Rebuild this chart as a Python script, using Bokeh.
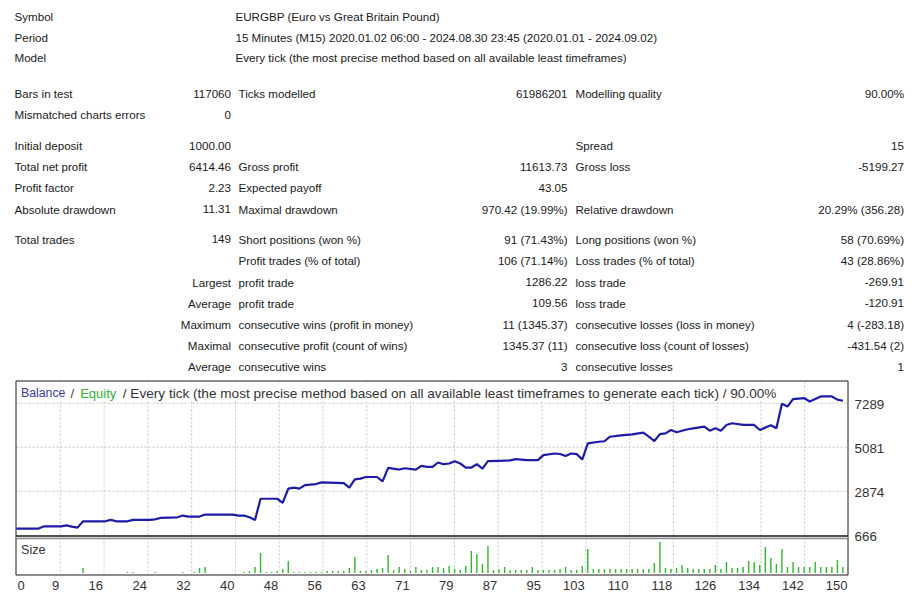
from bokeh.plotting import figure
from bokeh.models import Range1d, ColumnDataSource
from bokeh.embed import file_html
from bokeh.resources import INLINE
from bokeh.core.properties import value

FONT = "Liberation Sans"

# ---------------- report table data ----------------
header_labels = ["Symbol", "Period", "Model"]
header_values = [
    "EURGBP (Euro vs Great Britain Pound)",
    "15 Minutes (M15) 2020.01.02 06:00 - 2024.08.30 23:45 (2020.01.01 - 2024.09.02)",
    "Every tick (the most precise method based on all available least timeframes)",
]
label1 = ["Bars in test", "Mismatched charts errors", "Initial deposit", "Total net profit",
          "Profit factor", "Absolute drawdown", "Total trades", "", "", "", "", "", ""]
value1 = ["117060", "0", "1000.00", "6414.46", "2.23", "11.31", "149", "",
          "Largest", "Average", "Maximum", "Maximal", "Average"]
label2 = ["Ticks modelled", "", "", "Gross profit", "Expected payoff", "Maximal drawdown",
          "Short positions (won %)", "Profit trades (% of total)", "profit trade", "profit trade",
          "consecutive wins (profit in money)", "consecutive profit (count of wins)", "consecutive wins"]
value2 = ["61986201", "", "", "11613.73", "43.05", "970.42 (19.99%)", "91 (71.43%)",
          "106 (71.14%)", "1286.22", "109.56", "11 (1345.37)", "1345.37 (11)", "3"]
label3 = ["Modelling quality", "", "Spread", "Gross loss", "", "Relative drawdown",
          "Long positions (won %)", "Loss trades (% of total)", "loss trade", "loss trade",
          "consecutive losses (loss in money)", "consecutive loss (count of losses)", "consecutive losses"]
value3 = ["90.00%", "", "15", "-5199.27", "", "20.29% (356.28)", "58 (70.69%)",
          "43 (28.86%)", "-269.91", "-120.91", "4 (-283.18)", "-431.54 (2)", "1"]

# ---------------- chart data ----------------
bal_trade = [0, 4, 5, 8, 9, 10, 11, 12, 16, 17, 18, 20, 21, 24, 25, 26, 29, 30, 31, 33, 34, 39,
             40, 41, 42, 43, 44, 47, 48, 49, 50, 51, 52, 54, 55, 59, 60, 61, 62, 63, 65, 66, 67,
             69, 70, 72, 73, 74, 75, 76, 77, 78, 79, 80, 81, 82, 83, 84, 85, 87, 89, 90, 92, 94,
             95, 97, 98, 99, 100, 101, 102, 103, 105, 106, 107, 109, 111, 113, 114, 115, 116,
             117, 118, 119, 121, 122, 124, 125, 126, 127, 128, 129, 131, 133, 134, 136, 137,
             138, 139, 140, 142, 143, 144, 145, 147, 148, 149]
bal_value = [1000, 1000, 1110, 1110, 1160, 1096, 1045, 1363, 1363, 1434, 1363, 1363, 1434, 1434,
             1464, 1535, 1565, 1651, 1601, 1601, 1702, 1702, 1651, 1651, 1565, 1434, 2495, 2495,
             2293, 2999, 3050, 3000, 3182, 3232, 3318, 3283, 3050, 3470, 3503, 3586, 3586, 3369,
             4041, 3960, 4025, 3960, 4142, 4091, 4091, 4313, 4228, 4263, 4379, 4263, 4060, 4060,
             4228, 4010, 4379, 4400, 4420, 4480, 4430, 4430, 4682, 4766, 4740, 4640, 4766, 4733,
             4463, 5273, 5354, 5380, 5607, 5678, 5728, 5809, 5607, 5390, 5740, 5775, 5945, 5830,
             5980, 6030, 6112, 5910, 6031, 5910, 6198, 6284, 6198, 6198, 5945, 6180, 6031, 7259,
             7123, 7496, 7547, 7375, 7496, 7627, 7627, 7470, 7414]

size_trade = [12, 20, 21, 25, 30, 32, 33, 34] + list(range(41, 150))
size_lots = [0.05, 0.01, 0.01, 0.01, 0.01, 0.01, 0.05, 0.06,
             # 41..60
             0.01, 0.02, 0.06, 0.20, 0.01, 0.01, 0.02, 0.04, 0.12, 0.01,
             0.01, 0.01, 0.01, 0.01, 0.01, 0.02, 0.02, 0.02, 0.02, 0.05,
             # 61..80
             0.16, 0.02, 0.02, 0.03, 0.04, 0.05, 0.18, 0.03, 0.06, 0.04,
             0.02, 0.06, 0.03, 0.03, 0.06, 0.06, 0.05, 0.07, 0.04, 0.03,
             # 81..100
             0.07, 0.22, 0.19, 0.09, 0.27, 0.03, 0.04, 0.06, 0.03, 0.03,
             0.03, 0.03, 0.06, 0.03, 0.03, 0.03, 0.03, 0.04, 0.06, 0.03,
             # 101..120
             0.03, 0.07, 0.24, 0.04, 0.04, 0.04, 0.04, 0.04, 0.04, 0.04,
             0.04, 0.04, 0.04, 0.04, 0.10, 0.31, 0.05, 0.04, 0.05, 0.08,
             # 121..140
             0.05, 0.04, 0.04, 0.04, 0.04, 0.08, 0.04, 0.11, 0.05, 0.05,
             0.06, 0.12, 0.11, 0.08, 0.26, 0.15, 0.09, 0.24, 0.06, 0.11,
             # 141..149
             0.06, 0.06, 0.06, 0.11, 0.06, 0.06, 0.06, 0.13, 0.06]

y_tick_values = [666, 2874, 5081, 7289]
x_tick_labels = ["0", "9", "16", "24", "32", "40", "48", "56", "63", "71", "79", "87", "95",
                 "103", "110", "118", "126", "134", "142", "150"]

title_parts = ["Balance", "/", "Equity",
               "/ Every tick (the most precise method based on all available least timeframes to generate each tick) / 90.00%"]
title_colors = ["#3a3aac", "#444444", "#33b233", "#333333"]

# ---------------- geometry (page pixels; page has no margin) ----------------
W, H = 916, 598
FX0, FX1 = 16, 848            # chart box left / right
FY0, FY1 = 381, 574           # chart box top / bottom (size panel bottom)
SEP = 535.5                   # separator between balance and size panels
XMIN, XMAX = 0, 150           # trade axis shown in the box
PY_TOPTICK, PY_BOTTICK = 402.7, 534.7   # pixel rows of 7289 and 666
SIZE_BASE, SIZE_PX = 572.5, 100.0       # size baseline row, pixels per lot

sx = (XMAX - XMIN) / (FX1 - FX0)
x_lo, x_hi = XMIN - FX0 * sx, XMAX + (W - FX1) * sx
uy = (y_tick_values[-1] - y_tick_values[0]) / (PY_BOTTICK - PY_TOPTICK)
y_hi = y_tick_values[0] + PY_BOTTICK * uy
y_lo = y_tick_values[0] - (H - PY_BOTTICK) * uy

p = figure(width=W, height=H, x_range=Range1d(x_lo, x_hi), y_range=Range1d(y_lo, y_hi),
           output_backend="svg", toolbar_location=None,
           min_border_left=0, min_border_right=0, min_border_top=0, min_border_bottom=0,
           x_axis_location=None, y_axis_location=None)
p.extra_x_ranges = {"px": Range1d(0, W)}
p.extra_y_ranges = {"pxy": Range1d(H, 0),
                    "size": Range1d(-(H - SIZE_BASE) / SIZE_PX, SIZE_BASE / SIZE_PX)}
p.grid.visible = False
p.outline_line_color = None
p.background_fill_color = "white"
p.border_fill_color = "white"

TXT = "#1a1a1a"
LAB = "#333333"
GRID = "#c4c4c4"

# ---------------- table ----------------
header_y = [15.7, 36.6, 57.4]
row_y = [93.3, 114.3, 145.0, 166.0, 187.3, 208.5, 238.8, 260.0, 281.5, 302.7, 324.0, 345.0, 366.0]

def add_text(xs, ys, texts, align):
    src = ColumnDataSource(dict(x=xs, y=ys, t=texts))
    p.text(x="x", y="y", text="t", source=src, x_range_name="px", y_range_name="pxy",
           text_font=value(FONT), text_font_size="11.6px", text_align=align,
           text_baseline="middle", text_color=TXT)

add_text([14] * 3, header_y, header_labels, "left")
add_text([235] * 3, header_y, header_values, "left")
add_text([14] * len(row_y), row_y, label1, "left")
add_text([230.5] * len(row_y), row_y, value1, "right")
add_text([238] * len(row_y), row_y, label2, "left")
add_text([567] * len(row_y), row_y, value2, "right")
add_text([575] * len(row_y), row_y, label3, "left")
add_text([903.5] * len(row_y), row_y, value3, "right")

# ---------------- chart grid ----------------
ndiv = len(x_tick_labels) - 1
grid_pos = [k * (XMAX - XMIN) / ndiv for k in range(1, ndiv)]
p.segment(x0=grid_pos, x1=grid_pos, y0=[FY0] * len(grid_pos), y1=[FY1] * len(grid_pos),
          y_range_name="pxy", line_color=GRID, line_dash="2 2", line_width=1)
hg = y_tick_values[1:]
p.segment(x0=[FX0] * len(hg), x1=[FX1] * len(hg), y0=hg, y1=hg,
          x_range_name="px", line_color=GRID, line_dash="2 2", line_width=1)

# white band behind the chart title
p.quad(left=[17], right=[784], top=[382], bottom=[400.5], x_range_name="px",
       y_range_name="pxy", fill_color="white", line_color=None)

# ---------------- data marks ----------------
p.segment(x0=size_trade, y0=[0] * len(size_trade), x1=size_trade, y1=size_lots,
          y_range_name="size", line_color="#2eb82e", line_width=1.4)
p.line(bal_trade, bal_value, line_color="#1c1ca8", line_width=2.2)

# ---------------- frames ----------------
p.quad(left=[FX0 - 0.5], right=[FX1 - 0.5], top=[FY0 - 0.5], bottom=[FY1 + 0.5],
       x_range_name="px", y_range_name="pxy", fill_color=None, line_color="#1a1a1a", line_width=1)
p.quad(left=[FX0 - 0.5], right=[FX1 - 0.5], top=[SEP + 0.8], bottom=[SEP + 2.1],
       x_range_name="px", y_range_name="pxy", fill_color="#d8d8d8", line_color=None)
p.segment(x0=[FX0 - 0.5, FX0 - 0.5], x1=[FX1 - 0.5, FX1 - 0.5], y0=[SEP, SEP + 2.7],
          y1=[SEP, SEP + 2.7], x_range_name="px", y_range_name="pxy",
          line_color=["#1a1a1a", "#707070"], line_width=[1.5, 1])

# ---------------- chart texts ----------------
title_px = [20.5, 70, 79.7, 122.3]
title_sz = ["12.3px", "13px", "13px", "13.6px"]
p.text(x=title_px, y=[392.6] * 4, text=title_parts, x_range_name="px", y_range_name="pxy",
       text_color=title_colors, text_font=value(FONT), text_font_size=title_sz,
       text_align="left", text_baseline="middle")
p.text(x=[20.5], y=[549.5], text=["Size"], x_range_name="px", y_range_name="pxy",
       text_color=LAB, text_font=value(FONT), text_font_size="12.6px",
       text_align="left", text_baseline="middle")

# y tick labels (right of the balance panel)
p.text(x=[854] * len(y_tick_values), y=y_tick_values, text=[str(v) for v in y_tick_values],
       x_range_name="px", text_color=LAB, text_font=value(FONT), text_font_size="13.4px",
       text_align="left", text_baseline="middle", y_offset=1)

# x tick labels: right-aligned to their grid lines (MT4 style); the first starts at the box edge
lab_x = []
for k, lab in enumerate(x_tick_labels):
    if k == 0:
        lab_x.append(XMIN + 0.9 * sx)
    else:
        lab_x.append(k * (XMAX - XMIN) / ndiv - 1.0 * sx)
lab_align = ["left" if k == 0 else "right" for k in range(len(x_tick_labels))]
p.text(x=lab_x, y=[585] * len(lab_x), text=x_tick_labels, y_range_name="pxy",
       text_color=LAB, text_font=value(FONT), text_font_size="13px",
       text_align=lab_align, text_baseline="middle")

open("out.html", "w").write(file_html(p, INLINE))
